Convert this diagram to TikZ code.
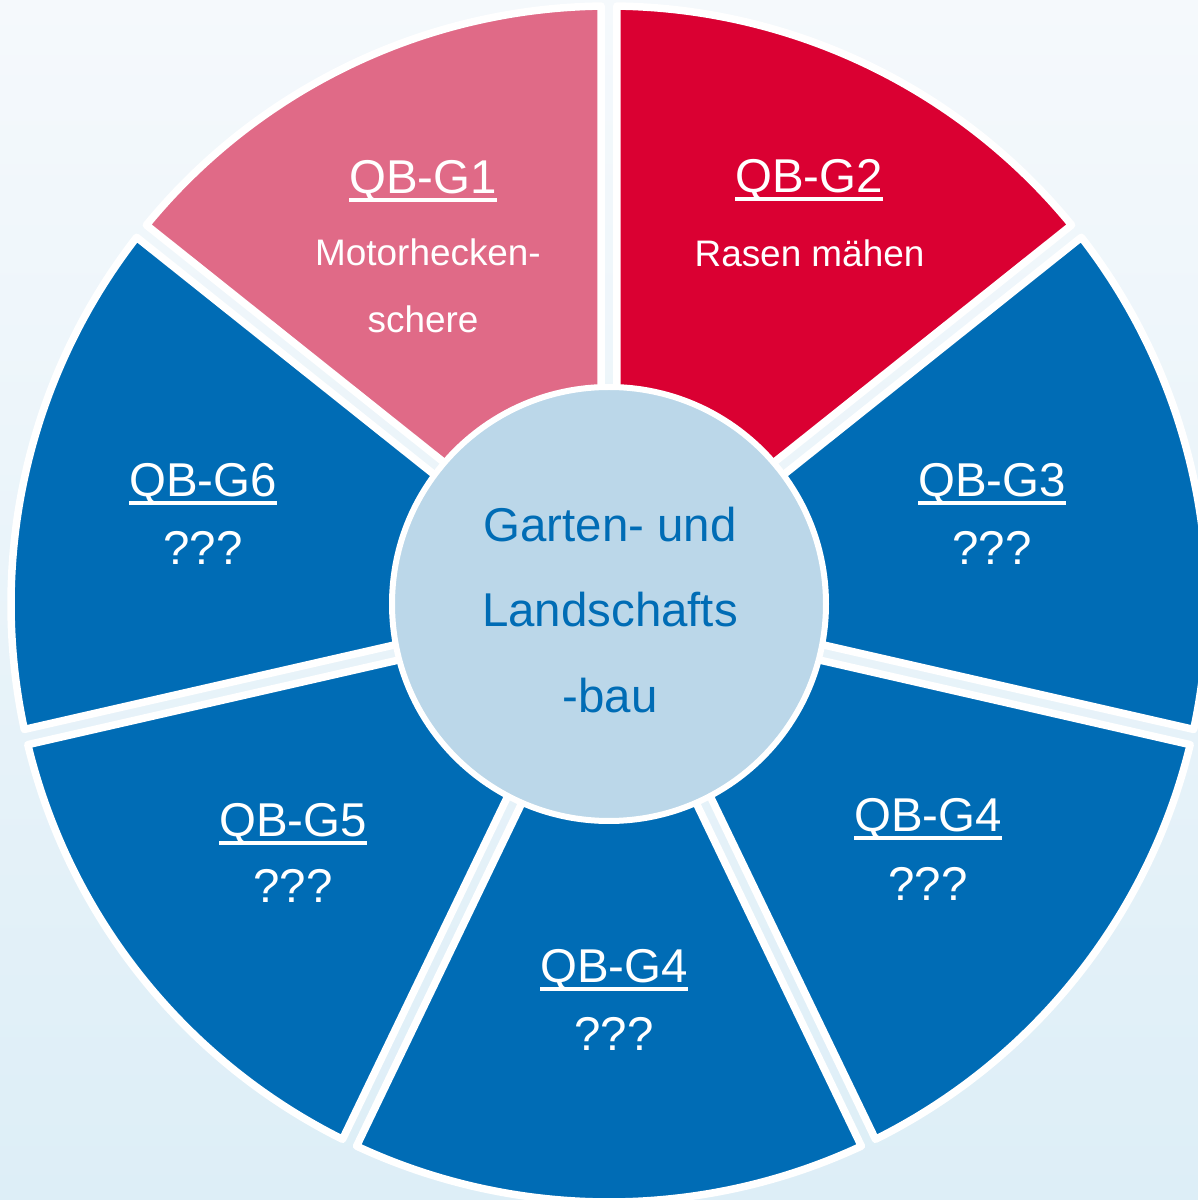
\documentclass[tikz,border=0pt]{standalone}
\usepackage{fontspec}
\setmainfont{Liberation Sans}
\usetikzlibrary{calc}

\definecolor{segblue}{HTML}{006CB5}
\definecolor{segred}{HTML}{DA0032}
\definecolor{segpink}{HTML}{E06A87}
\definecolor{hubfill}{HTML}{BBD7E9}
\definecolor{bgtop}{HTML}{F5F9FC}
\definecolor{bgbot}{HTML}{DDEEF7}

% underlined title text
\newcommand{\qbline}[1]{\setbox0\hbox{#1}\rlap{\rule[-2.15pt]{\wd0}{0.9pt}}\box0}

\begin{document}
\begin{tikzpicture}[
  seg/.style={draw=white,line width=0.75mm,line join=round},
  hub/.style={circle,draw=white,line width=0.6mm,fill=hubfill,minimum size=4.34cm,inner sep=0pt},
  title/.style={text=white,font=\fontsize{13.5}{16}\selectfont,anchor=base,inner sep=0pt},
  sub/.style={text=white,font=\fontsize{10.5}{13}\selectfont,anchor=base,inner sep=0pt},
  hubtext/.style={text=segblue,font=\fontsize{13.5}{16}\selectfont,anchor=base,inner sep=0pt}
]

% -------------------------
% Geometry
% -------------------------
\def\cx{6.09}
\def\cy{5.96}
\def\rOut{5.98}
\def\gap{0.078}
\def\half{25.714}
\def\dang{0.75}

% -------------------------
% Background
% -------------------------
\useasboundingbox (0,0) rectangle (11.98,12);
\clip (0,0) rectangle (11.98,12);
\shade[top color=bgtop,bottom color=bgbot] (0,0) rectangle (11.98,12);

\coordinate (C) at (\cx,\cy);

% -------------------------
% Ring segments (clockwise from top)
% -------------------------
\foreach \a/\col in {90/segred,38.571/segblue,-12.857/segblue,-64.286/segblue,
                     -115.714/segblue,-167.143/segblue,141.429/segpink} {
  \path[seg,fill=\col] ($(C)+({\a-\half}:{\gap/sin(\half)})$)
    -- ($(C)+({\a-\dang}:\rOut)$)
    arc[start angle={\a-\dang},end angle={\a-51.429+\dang},radius=\rOut]
    -- cycle;
}

% -------------------------
% Hub
% -------------------------
\node[hub] (hub) at (C) {};
\node[hubtext] (hub-a) at (6.10,6.58) {Garten- und};
\node[hubtext] (hub-b) at (6.10,5.73) {Landschafts};
\node[hubtext] (hub-c) at (6.10,4.87) {-bau};

% -------------------------
% Segment labels
% -------------------------
\node[title] (g1) at (4.23,10.06) {\qbline{QB-G1}};
\node[sub]   (g1-a) at (4.28,9.34) {Motorhecken-};
\node[sub]   (g1-b) at (4.23,8.67) {schere};

\node[title] (g2) at (8.09,10.07) {\qbline{QB-G2}};
\node[sub]   (g2-a) at (8.095,9.33) {Rasen mähen};

\node[title] (g3) at (9.92,7.03) {\qbline{QB-G3}};
\node[title] (g3-a) at (9.92,6.35) {???};

\node[title] (g4) at (9.28,3.68) {\qbline{QB-G4}};
\node[title] (g4-a) at (9.28,3.00) {???};

\node[title] (g4b) at (6.14,2.17) {\qbline{QB-G4}};
\node[title] (g4b-a) at (6.14,1.50) {???};

\node[title] (g5) at (2.93,3.63) {\qbline{QB-G5}};
\node[title] (g5-a) at (2.93,2.97) {???};

\node[title] (g6) at (2.03,7.03) {\qbline{QB-G6}};
\node[title] (g6-a) at (2.03,6.35) {???};

\end{tikzpicture}
\end{document}
